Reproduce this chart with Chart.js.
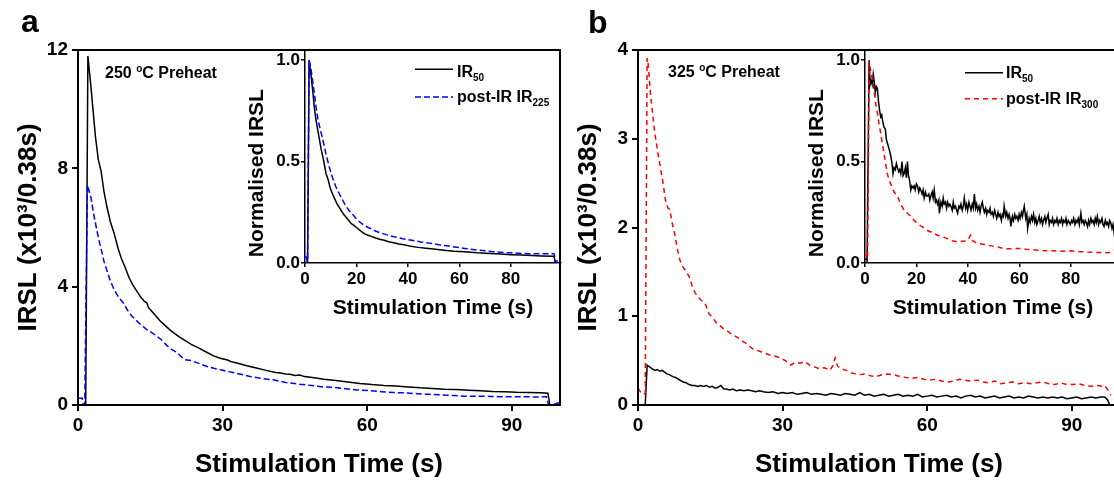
<!DOCTYPE html>
<html>
<head>
<meta charset="utf-8">
<script src="https://cdn.jsdelivr.net/npm/chart.js@4.4.1/dist/chart.umd.min.js"></script>
<style>
  html, body { margin: 0; padding: 0; background: #fff; }
  body { width: 1114px; height: 481px; overflow: hidden; position: relative;
         font-family: "Liberation Sans", Arial, sans-serif; font-weight: bold; color: #000; }
  canvas, .txt, svg { position: absolute; }
  .txt { line-height: 1; white-space: nowrap; }
  .txt sub { font-size: 10px; vertical-align: -4px; line-height: 0; }
  .txt sup { font-size: 10px; vertical-align: 6px; line-height: 0; }
</style>
</head>
<body>
<canvas id="mainA" width="570" height="481" style="left:0;top:0"></canvas>
<canvas id="insetA" width="350" height="330" style="left:221px;top:0"></canvas>
<canvas id="mainB" width="570" height="481" style="left:560px;top:0"></canvas>
<canvas id="insetB" width="350" height="330" style="left:781px;top:0"></canvas>

<div class="txt" style="left:21px;top:5px;font-size:32px">a</div>
<div class="txt" style="left:588px;top:6px;font-size:32px">b</div>
<div class="txt" style="left:105px;top:65px;font-size:16px">250 <sup>o</sup>C Preheat</div>
<div class="txt" style="left:668px;top:64px;font-size:16px">325 <sup>o</sup>C Preheat</div>

<svg style="left:415px;top:60px" width="38" height="45">
  <line x1="0" y1="9.3" x2="38" y2="9.3" stroke="#000" stroke-width="1.5"/>
  <line x1="0" y1="37" x2="38" y2="37" stroke="#0000ff" stroke-width="1.5" stroke-dasharray="6 3"/>
</svg>
<div class="txt" style="left:457px;top:64px;font-size:16px">IR<sub>50</sub></div>
<div class="txt" style="left:457px;top:89px;font-size:16px">post-IR IR<sub>225</sub></div>

<svg style="left:965px;top:60px" width="38" height="45">
  <line x1="0" y1="12.7" x2="38" y2="12.7" stroke="#000" stroke-width="1.5"/>
  <line x1="0" y1="38.7" x2="38" y2="38.7" stroke="#ff0000" stroke-width="1.5" stroke-dasharray="5 4"/>
</svg>
<div class="txt" style="left:1006px;top:65px;font-size:16px">IR<sub>50</sub></div>
<div class="txt" style="left:1006px;top:91px;font-size:16px">post-IR IR<sub>300</sub></div>

<script>
// panel a, main: [time (s), IRSL x10^3]
const mainA_IR50 = [[0,0],[1.6,0],[2.05,11.8],[2.6,10.9],[3.1,10.0],[3.6,9.1],[4.2,8.3],[4.8,7.9],
  [5.4,7.2],[6.0,6.7],[6.7,6.2],[7.5,5.8],[8.3,5.3],[9.0,4.95],[9.8,4.65],[10.6,4.3],[11.4,4.05],[12.2,3.85],
  [13.0,3.65],[13.8,3.5],[14.3,3.45],[14.6,3.3],[15.4,3.15],[16.2,3.0],[17.0,2.85],[18.0,2.7],[19.0,2.55],
  [20.0,2.42],[21.0,2.3],[22.0,2.2],[23.5,2.05],[25.0,1.93],[26.5,1.8],[28.0,1.67],[29.5,1.58],[31.0,1.52],
  [32.0,1.45],[33.0,1.42],[35.0,1.33],[37.0,1.25],[39.0,1.17],[41.0,1.1],[42.0,1.08],[43.0,1.05],[44.0,1.04],
  [45.0,1.0],[46.0,1.01],[47.0,0.96],[49.0,0.92],[51.0,0.87],[53.5,0.83],[56.0,0.78],[58.5,0.73],[61.0,0.69],
  [63.5,0.66],[66.0,0.64],[68.5,0.61],[71.0,0.58],[73.5,0.56],[76.0,0.53],[78.5,0.52],[81.0,0.5],[83.5,0.48],
  [86.0,0.46],[88.5,0.45],[91.0,0.43],[93.5,0.42],[96.0,0.41],[97.5,0.40],[97.9,0],[100,0]];
const mainA_IR225 = [[0,0.23],[0.9,0.23],[1.1,0.02],[1.4,0.02],[1.95,7.44],[2.7,7.0],[3.2,6.5],[3.8,6.0],
  [4.3,5.6],[4.9,5.2],[5.4,4.85],[6.0,4.55],[6.7,4.2],[7.5,3.9],[8.4,3.65],[9.4,3.45],[10.3,3.2],[11.2,3.0],
  [12.0,2.87],[13.0,2.72],[14.2,2.56],[15.3,2.45],[16.4,2.32],[17.5,2.18],[18.5,2.0],[19.4,1.88],[20.5,1.78],
  [21.5,1.62],[22.3,1.53],[23.5,1.5],[24.5,1.44],[25.5,1.38],[26.8,1.3],[28.2,1.24],[29.8,1.18],[31.5,1.12],
  [33.5,1.05],[35.7,0.96],[38,0.9],[40.5,0.85],[43.1,0.76],[46,0.7],[48.5,0.66],[50.5,0.62],[53,0.6],
  [55.5,0.55],[57.9,0.51],[60.5,0.49],[63,0.45],[65.3,0.42],[68,0.41],[70.5,0.38],[72.7,0.36],[75.5,0.34],
  [78,0.32],[80.1,0.30],[83,0.3],[85.5,0.29],[87.6,0.28],[90,0.28],[92.5,0.28],[95,0.27],[97.2,0.28],
  [97.6,0.02],[98.5,0],[99.2,0.05],[100,0.08]];

// panel a, inset: normalised IRSL
const insetA_IR50 = [[0,0],[1.0,0],[1.6,1.0],[2.3,0.93],[3.0,0.85],[3.6,0.77],[4.2,0.71],[4.9,0.66],[5.6,0.61],
  [6.3,0.56],[7.0,0.52],[7.6,0.48],[8.2,0.44],[9.0,0.41],[9.8,0.37],[10.7,0.34],[11.6,0.315],[12.5,0.29],
  [13.3,0.275],[14.0,0.26],[15.0,0.24],[16.0,0.225],[17.0,0.21],[17.9,0.195],[19,0.185],[20,0.175],[21.5,0.16],
  [23,0.145],[24.5,0.137],[26,0.13],[27.5,0.123],[29,0.117],[30.8,0.112],[32.5,0.105],[34.5,0.1],[36.5,0.094],
  [38.5,0.09],[41.2,0.082],[44,0.077],[47,0.073],[50,0.069],[54,0.063],[58,0.058],[62,0.055],[67,0.05],
  [72,0.047],[76,0.044],[80,0.041],[84,0.039],[88,0.037],[92,0.035],[96.8,0.033],[97.3,0],[99.5,0]];
const insetA_IR225 = [[0,0.03],[0.6,0.03],[0.8,0.01],[1.0,0.01],[1.6,1.0],[2.4,0.95],[3.4,0.86],[4.3,0.77],
  [5.0,0.71],[5.9,0.66],[6.9,0.61],[8.1,0.54],[9.4,0.475],[10.7,0.42],[12.0,0.376],[13.6,0.335],[15.3,0.294],
  [17.0,0.26],[18.8,0.235],[20.5,0.21],[22.5,0.19],[24.6,0.175],[26.9,0.16],[29,0.15],[31.5,0.14],[34.7,0.129],
  [38,0.12],[41.5,0.112],[45,0.104],[48.5,0.098],[52,0.09],[55,0.085],[58,0.079],[62,0.072],[66,0.065],
  [70,0.06],[73.5,0.056],[77,0.052],[80,0.05],[83,0.048],[86.5,0.046],[90,0.046],[93.5,0.045],[96.8,0.046],
  [97.2,0.02],[97.6,0],[98.4,0.02],[99.5,0.01]];

// panel b, main
const mainB_IR50 = [[0,0],[1.5,0],[1.9,0.45],[2.4,0.43],[2.9,0.41],[3.5,0.39],[4.0,0.40],[4.5,0.38],
  [5.0,0.39],[5.5,0.37],[6.0,0.35],[6.6,0.34],[7.2,0.32],[7.8,0.31],[8.4,0.29],[9.0,0.27],[9.4,0.26],[10,0.25],
  [10.6,0.23],[11.2,0.22],[11.8,0.22],[12.4,0.21],[13,0.22],[13.6,0.21],[14.2,0.22],[14.8,0.2],[15.4,0.21],
  [16,0.19],[16.6,0.2],[17.2,0.22],[17.8,0.18],[18.3,0.18],[19,0.17],[19.7,0.18],[20.4,0.16],[21.2,0.17],
  [22,0.16],[22.8,0.17],[23.6,0.16],[24.4,0.15],[25.2,0.16],[26,0.15],[27,0.14],[28,0.15],[29,0.13],[30,0.14],
  [31,0.13],[32,0.14],[33,0.12],[34,0.13],[35,0.14],[36,0.12],[37,0.13],[38,0.12],[39,0.11],[40,0.13],
  [41,0.12],[42,0.11],[43,0.13],[44,0.12],[45,0.11],[46,0.14],[47,0.11],[48,0.12],[49,0.1],[50,0.11],
  [51,0.12],[52,0.1],[53,0.11],[54,0.12],[55,0.1],[56,0.11],[57,0.1],[58,0.12],[59,0.09],[60,0.1],[61,0.11],
  [62,0.09],[63,0.1],[64,0.11],[65,0.09],[66,0.1],[67,0.08],[68,0.1],[69,0.11],[70,0.09],[71,0.1],[72,0.08],
  [73,0.09],[74,0.1],[75,0.08],[76,0.09],[77,0.1],[78,0.08],[79,0.09],[80,0.08],[81,0.1],[82,0.09],[83,0.08],
  [84,0.09],[85,0.08],[86,0.09],[87,0.08],[88,0.09],[89,0.07],[90,0.08],[91,0.09],[92,0.07],[93,0.08],
  [94,0.09],[95,0.08],[96,0.09],[96.8,0.09],[97.4,0.06],[97.9,0],[100,0]];
const mainB_IR300 = [[0,0.19],[0.6,0.14],[1.0,0.12],[1.5,0.13],[1.9,3.91],[2.1,3.85],[2.6,3.5],[3.1,3.25],
  [3.5,3.06],[4.1,2.85],[4.6,2.69],[5.2,2.5],[5.7,2.31],[6.2,2.22],[6.6,2.2],[7.1,2.05],[7.6,1.93],[8.2,1.75],
  [8.7,1.63],[9.3,1.56],[10.0,1.5],[10.6,1.45],[11.2,1.35],[11.8,1.27],[12.4,1.22],[13.1,1.18],[13.9,1.15],
  [14.7,1.03],[15.5,0.98],[16.2,0.93],[16.9,0.9],[17.7,0.86],[18.4,0.84],[19.1,0.81],[20.0,0.78],[20.7,0.76],
  [21.4,0.73],[22.5,0.69],[23.6,0.64],[24.5,0.62],[25.5,0.6],[26.5,0.58],[27.5,0.56],[28.5,0.55],[29.5,0.53],
  [30.6,0.5],[31.7,0.45],[32.6,0.48],[33.6,0.47],[34.6,0.49],[35.6,0.45],[36.6,0.43],[37.6,0.41],[38.7,0.42],
  [39.8,0.39],[40.4,0.44],[40.9,0.53],[41.4,0.44],[42.0,0.41],[43.2,0.39],[44.4,0.36],[45.7,0.34],[47,0.35],
  [48.2,0.33],[49.4,0.32],[50.6,0.34],[51.8,0.35],[53.1,0.34],[54.4,0.32],[55.6,0.31],[56.8,0.30],[58,0.31],
  [59.3,0.29],[60.5,0.28],[61.8,0.29],[63,0.27],[64.2,0.26],[65.5,0.27],[66.7,0.29],[67.9,0.28],[69.1,0.27],
  [70.4,0.28],[71.6,0.26],[72.8,0.25],[74,0.27],[75.3,0.24],[76.5,0.25],[77.7,0.26],[79,0.24],[80.2,0.25],
  [81.5,0.24],[82.7,0.25],[84,0.26],[85.2,0.24],[86.5,0.23],[87.7,0.25],[89,0.23],[90.2,0.23],[91.4,0.24],
  [92.7,0.22],[93.9,0.21],[95.1,0.22],[96.3,0.21],[96.8,0.22],[97.5,0.17],[98.1,0.11]];

// panel b, inset: normalised IRSL
const insetB_IR50 = [[0,0.02],[0.5,0.02],[0.8,0.01],[1.0,0.01],[1.6,1.0],[2.0,0.88],[2.4,0.9],[2.8,0.88],
  [3.2,0.93],[3.6,0.89],[4.0,0.84],[4.4,0.87],[4.8,0.86],[5.3,0.79],[5.7,0.75],[6.1,0.72],[6.5,0.73],[7.0,0.69],
  [7.4,0.67],[7.9,0.66],[8.3,0.61],[8.7,0.59],[9.2,0.57],[9.6,0.55],[10,0.53],[10.5,0.49],[10.9,0.44],[11.3,0.47],
  [11.8,0.46],[12.2,0.49],[12.6,0.47],[13.1,0.45],[13.5,0.46],[13.9,0.44],[14.4,0.5],[14.8,0.43],[15.2,0.44],
  [15.7,0.47],[16.1,0.42],[16.5,0.5],[16.9,0.43],[17.3,0.41],[17.8,0.36],[18.2,0.38],[18.7,0.37],[19.1,0.38],
  [19.5,0.36],[20.0,0.39],[20.4,0.38],[20.9,0.35],[21.3,0.37],[21.7,0.36],[22.2,0.34],[22.6,0.36],[23.0,0.32],
  [23.5,0.35],[23.9,0.33],[24.3,0.33],[24.8,0.34],[25.2,0.31],[25.6,0.33],[26.1,0.35],[26.5,0.32],[26.9,0.36],
  [27.4,0.3],[27.8,0.31],[28.2,0.29],[28.7,0.31],[28.9,0.245],[29.5,0.3],[30.0,0.28],[30.4,0.32],[30.8,0.29],
  [31.3,0.3],[31.7,0.27],[32.1,0.3],[32.6,0.28],[33.0,0.29],[33.4,0.28],[33.9,0.26],[34.3,0.3],[34.7,0.27],
  [35.2,0.28],[35.6,0.26],[36.0,0.245],[36.5,0.28],[36.9,0.27],[37.3,0.29],[37.8,0.26],[38.2,0.28],[38.6,0.32],
  [39.1,0.27],[39.5,0.29],[39.9,0.26],[40.4,0.3],[40.8,0.28],[41.2,0.26],[41.7,0.29],[42.1,0.27],[42.5,0.34],
  [43.0,0.27],[43.4,0.29],[43.8,0.26],[44.3,0.28],[44.7,0.25],[45.1,0.28],[45.6,0.3],[46.0,0.27],[46.4,0.25],
  [46.9,0.27],[47.3,0.24],[47.7,0.26],[48.2,0.25],[48.6,0.27],[49.0,0.24],[49.5,0.25],[49.9,0.23],[50.4,0.26],
  [50.8,0.24],[51.2,0.22],[51.7,0.25],[52.1,0.23],[52.5,0.24],[53.0,0.21],[53.4,0.24],[53.8,0.23],[54.1,0.28],
  [54.7,0.23],[55.1,0.25],[55.6,0.22],[56.0,0.24],[56.4,0.22],[56.7,0.18],[57.3,0.23],[57.7,0.21],[58.2,0.24],
  [58.6,0.22],[59.0,0.23],[59.5,0.21],[59.9,0.24],[60.3,0.22],[60.8,0.25],[61.2,0.23],[61.6,0.26],[61.9,0.28],
  [62.5,0.22],[62.9,0.24],[63.2,0.17],[63.8,0.22],[64.2,0.2],[64.7,0.23],[65.1,0.21],[65.5,0.24],[66.0,0.2],
  [66.4,0.22],[66.8,0.19],[67.3,0.21],[67.7,0.23],[68.1,0.2],[68.6,0.22],[69.0,0.19],[69.4,0.21],[69.9,0.23],
  [70.3,0.2],[70.7,0.22],[71.2,0.24],[71.6,0.19],[72.0,0.21],[72.5,0.2],[72.9,0.22],[73.3,0.19],[73.8,0.21],
  [74.2,0.2],[74.6,0.22],[75.1,0.19],[75.5,0.21],[75.9,0.2],[76.4,0.22],[76.8,0.19],[77.2,0.21],[77.7,0.2],
  [78.1,0.22],[78.5,0.19],[79.0,0.21],[79.4,0.2],[79.8,0.19],[80.3,0.21],[80.7,0.2],[81.1,0.22],[81.6,0.19],
  [82.0,0.21],[82.4,0.2],[82.9,0.22],[83.3,0.19],[83.9,0.245],[84.3,0.2],[84.7,0.21],[85.2,0.19],[85.6,0.21],
  [86.0,0.2],[86.5,0.18],[86.9,0.21],[87.3,0.19],[87.8,0.22],[88.2,0.2],[88.6,0.21],[89.1,0.19],[89.5,0.22],
  [89.9,0.2],[90.3,0.23],[90.8,0.19],[91.2,0.21],[91.6,0.2],[92.1,0.22],[92.5,0.19],[92.9,0.18],[93.4,0.21],
  [93.8,0.19],[94.2,0.2],[94.7,0.18],[95.1,0.21],[95.5,0.2],[96.0,0.17],[96.4,0.19],[96.8,0.15],[97.2,0.2],
  [97.7,0]];
const insetB_IR300 = [[0,0.04],[0.6,0.04],[0.8,0.02],[1.0,0.02],[1.6,0.99],[2.3,0.94],[3.0,0.9],[3.5,0.855],
  [4.1,0.79],[4.8,0.74],[5.4,0.69],[6.1,0.64],[6.7,0.59],[7.4,0.54],[8.0,0.49],[8.7,0.44],[9.3,0.41],[10.0,0.39],
  [10.7,0.37],[11.3,0.35],[12.6,0.33],[13.9,0.29],[15.2,0.26],[16.5,0.245],[17.8,0.23],[19.1,0.21],[20.4,0.195],
  [22,0.18],[24.3,0.16],[26.2,0.15],[28.2,0.137],[30,0.13],[32,0.12],[34,0.11],[35.9,0.104],[37.8,0.107],
  [39.8,0.11],[40.5,0.125],[41,0.137],[41.8,0.11],[43.8,0.097],[45.8,0.093],[47.7,0.088],[50,0.082],[52,0.078],
  [54.1,0.071],[56.5,0.07],[58.5,0.072],[60.6,0.071],[62.5,0.068],[65,0.066],[67.1,0.063],[69.5,0.061],
  [71.5,0.06],[73.5,0.06],[76,0.058],[78,0.059],[80,0.06],[82,0.057],[84,0.056],[86.5,0.054],[88.5,0.053],
  [90.5,0.052],[92.9,0.05],[95,0.052],[96.8,0.063],[99.5,0.07]];

const FONT = '"Liberation Sans", Arial, sans-serif';
Chart.defaults.font.family = FONT;
Chart.defaults.color = '#000';

const frame = {
  id: 'frame',
  afterDatasetsDraw(chart, args, opts) {
    if (!opts.show) return;
    const a = chart.chartArea, c = chart.ctx;
    c.save();
    c.strokeStyle = '#000';
    c.lineWidth = 2;
    c.strokeRect(a.left, a.top, a.right - a.left, a.bottom - a.top);
    c.restore();
  }
};

function series(pairs, color, dash) {
  return {
    data: pairs.map(p => ({ x: p[0], y: p[1] })),
    borderColor: color, borderWidth: 1.5, borderDash: dash || [],
    pointRadius: 0, tension: 0, fill: false
  };
}

function panel(id, datasets, o) {
  return new Chart(document.getElementById(id), {
    type: 'line',
    data: { datasets },
    options: {
      responsive: false, animation: false, devicePixelRatio: 1,
      layout: { padding: { left: 0, top: 50, right: o.padRight, bottom: 0 } },
      plugins: { legend: { display: false }, tooltip: { enabled: false }, frame: { show: o.frame } },
      scales: {
        x: {
          type: 'linear', min: 0, max: o.xMax,
          afterFit: s => { s.height = o.xHeight; },
          ticks: { stepSize: o.xStep, includeBounds: false, maxRotation: 0, padding: o.xTickPad,
                   font: { size: o.tickSize, weight: 'bold' }, color: '#000' },
          grid: { drawOnChartArea: false, tickLength: o.tickLen, color: '#000', lineWidth: o.lw },
          border: { color: '#000', width: o.lw },
          title: { display: true, text: 'Stimulation Time (s)', color: '#000',
                   font: { size: o.titleSize, weight: 'bold' }, padding: { top: 0, bottom: o.xTitlePad } }
        },
        y: {
          min: 0, max: o.yMax,
          afterFit: s => { s.width = o.yWidth; },
          ticks: { stepSize: o.yStep, includeBounds: false, padding: o.yTickPad,
                   font: { size: o.tickSize, weight: 'bold' }, color: '#000', callback: o.yFmt },
          grid: { drawOnChartArea: false, tickLength: o.tickLen, color: '#000', lineWidth: o.lw },
          border: { color: '#000', width: o.lw },
          title: { display: true, text: o.yTitle, color: '#000', align: o.yAlign,
                   font: { size: o.titleSize, weight: 'bold' }, padding: { top: o.yTitlePad, bottom: 0 } }
        }
      }
    },
    plugins: [frame]
  });
}

const mainOpts = {
  padRight: 10, xMax: 100, xStep: 30, xHeight: 76, yWidth: 78, tickLen: 6, lw: 2,
  xTickPad: 3, yTickPad: 4, tickSize: 19, titleSize: 26, xTitlePad: 1, yTitlePad: 13,
  yTitle: 'IRSL (x10³/0.38s)', yAlign: 'center', frame: true, yFmt: v => v
};
const insetOpts = {
  padRight: 10, xMax: 99.5, xStep: 20, xHeight: 67, yWidth: 84, tickLen: 4, lw: 1.5,
  xTickPad: 2, yTickPad: 1, tickSize: 17, titleSize: 21, xTitlePad: 9, yTitlePad: 24,
  yTitle: ' Normalised IRSL', yAlign: 'start', frame: false, yMax: 1.05, yStep: 0.5,
  yFmt: v => Number(v).toFixed(1)
};

panel('mainA', [series(mainA_IR225, '#0000ff', [6, 3]), series(mainA_IR50, '#000')],
  Object.assign({}, mainOpts, { yMax: 12, yStep: 4 }));
panel('insetA', [series(insetA_IR225, '#0000ff', [6, 3]), series(insetA_IR50, '#000')], insetOpts);
panel('mainB', [series(mainB_IR300, '#ff0000', [5, 4]), series(mainB_IR50, '#000')],
  Object.assign({}, mainOpts, { yMax: 4, yStep: 1 }));
panel('insetB', [series(insetB_IR300, '#ff0000', [5, 4]), series(insetB_IR50, '#000')], insetOpts);
</script>
</body>
</html>
